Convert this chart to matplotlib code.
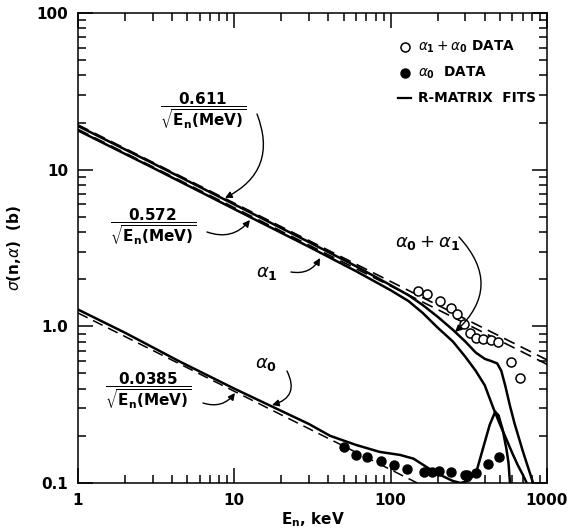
import matplotlib
matplotlib.use("Agg")
import matplotlib.pyplot as plt
from matplotlib.ticker import FixedLocator, NullFormatter, FixedFormatter

# ---------------- data ----------------
# 1/v reference lines (dashed): endpoints
ref_E = [1, 1000]
ref_611 = [19.32, 0.611]
ref_572 = [18.09, 0.572]
ref_0385_E = [1, 148]
ref_0385 = [1.217, 0.1]

# R-matrix fits (solid)
fit_a01_E = [1, 3, 10, 30, 60, 100, 130, 160, 200, 250, 300, 350, 400, 440, 480, 510, 540, 580, 620, 700, 815]
fit_a01_s = [19.0, 11.0, 6.0, 3.45, 2.42, 1.83, 1.58, 1.37, 1.15, 0.95, 0.80, 0.68, 0.62, 0.60, 0.58, 0.52, 0.42, 0.31, 0.24, 0.16, 0.10]

fit_a1_E = [1, 3, 10, 30, 60, 100, 130, 160, 200, 250, 300, 350, 400, 454, 500, 550, 600, 650, 700, 742]
fit_a1_s = [17.8, 10.3, 5.6, 3.22, 2.25, 1.70, 1.45, 1.22, 0.98, 0.80, 0.64, 0.52, 0.42, 0.30, 0.237, 0.19, 0.155, 0.13, 0.113, 0.10]

fit_a0_E = [1, 2, 4.5, 10, 18, 30, 41, 60, 85, 115, 140, 175, 210, 250, 280, 320, 356, 392, 430, 466, 490, 520, 550, 567, 580]
fit_a0_s = [1.28, 0.91, 0.594, 0.40, 0.303, 0.238, 0.20, 0.175, 0.158, 0.151, 0.143, 0.124, 0.112, 0.103, 0.100, 0.104, 0.121, 0.17, 0.235, 0.285, 0.27, 0.22, 0.165, 0.135, 0.10]

# data points
open_E = [149, 170, 207, 242, 267, 295, 322, 352, 388, 439, 484, 587, 676]
open_s = [1.69, 1.61, 1.46, 1.30, 1.20, 1.03, 0.91, 0.84, 0.83, 0.82, 0.79, 0.59, 0.47]

filled_E = [50, 60, 71, 87, 105, 127, 164, 184, 205, 242, 298, 310, 352, 418, 490]
filled_s = [0.170, 0.152, 0.147, 0.138, 0.130, 0.122, 0.118, 0.118, 0.120, 0.118, 0.113, 0.113, 0.115, 0.132, 0.146]

x_ticks = [1, 10, 100, 1000]
x_ticklabels = ["1", "10", "100", "1000"]
y_ticks = [0.1, 1.0, 10, 100]
y_ticklabels = ["0.1", "1.0", "10", "100"]

# ---------------- figure ----------------
W, H = 571, 531
fig = plt.figure(figsize=(W / 100, H / 100), dpi=100)
L, R, T, B = 78, 547, 13, 483
ax = fig.add_axes([L / W, 1 - B / H, (R - L) / W, (B - T) / H])
ax.set_xscale("log")
ax.set_yscale("log")
ax.set_xlim(1, 1000)
ax.set_ylim(0.1, 100)

dash = (0, (7, 4))
lw_s = 1.8
ax.plot(ref_E, ref_611, color="k", lw=1.2, ls=dash)
ax.plot(ref_E, ref_572, color="k", lw=1.2, ls=dash)
ax.plot(ref_0385_E, ref_0385, color="k", lw=1.1, ls=dash)

ax.plot(fit_a01_E, fit_a01_s, color="k", lw=lw_s, solid_joinstyle="round")
ax.plot(fit_a1_E, fit_a1_s, color="k", lw=lw_s, solid_joinstyle="round")
ax.plot(fit_a0_E, fit_a0_s, color="k", lw=lw_s, solid_joinstyle="round")

ax.plot(open_E, open_s, ls="none", marker="o", ms=6.5, mfc="white", mec="k", mew=1.1)
ax.plot(filled_E, filled_s, ls="none", marker="o", ms=6.5, mfc="k", mec="k")

# ticks
ax.xaxis.set_major_locator(FixedLocator(x_ticks))
ax.xaxis.set_major_formatter(FixedFormatter(x_ticklabels))
ax.yaxis.set_major_locator(FixedLocator(y_ticks))
ax.yaxis.set_major_formatter(FixedFormatter(y_ticklabels))
ax.xaxis.set_minor_formatter(NullFormatter())
ax.yaxis.set_minor_formatter(NullFormatter())
ax.tick_params(which="both", direction="in", top=True, right=True, width=1.1)
ax.tick_params(which="major", length=11, pad=7, labelsize=11)
ax.tick_params(which="minor", length=6)
for lab in ax.get_xticklabels() + ax.get_yticklabels():
    lab.set_fontweight("bold")
for s in ax.spines.values():
    s.set_linewidth(1.1)

ax.set_xlabel(r"E$_{\mathbf{n}}$, keV", fontsize=11, fontweight="bold", labelpad=2)
ax.set_ylabel(r"$\sigma$(n,$\alpha$)  (b)", fontsize=11, fontweight="bold", labelpad=10)


def fp(x, y):
    return (x / W, 1 - y / H)


# legend (manual)
def axp(x, y):
    return ((x - L) / (R - L), (B - y) / (B - T))


ax.plot(*axp(405, 47), marker="o", ms=6.5, mfc="white", mec="k", mew=1.1, transform=ax.transAxes, clip_on=False)
ax.plot(*axp(405, 73), marker="o", ms=6.5, mfc="k", mec="k", transform=ax.transAxes, clip_on=False)
x0, y0 = axp(398, 98)
x1, _ = axp(411, 98)
ax.plot([x0, x1], [y0, y0], color="k", lw=1.6, transform=ax.transAxes)
leg_kw = dict(fontsize=9.8, fontweight="bold", va="center")
fig.text(*fp(418, 47), r"$\alpha_{\mathbf{1}}+\alpha_{\mathbf{0}}$ DATA", **leg_kw)
fig.text(*fp(418, 73), r"$\alpha_{\mathbf{0}}$  DATA", **leg_kw)
fig.text(*fp(418, 98), "R-MATRIX  FITS", **leg_kw)

# fraction labels
frac_kw = dict(fontsize=11, ha="center", va="center")
fig.text(*fp(203, 111), r"$\dfrac{\mathbf{0.611}}{\sqrt{\mathbf{E_n(MeV)}}}$", **frac_kw)
fig.text(*fp(153, 227), r"$\dfrac{\mathbf{0.572}}{\sqrt{\mathbf{E_n(MeV)}}}$", **frac_kw)
fig.text(*fp(148, 391), r"$\dfrac{\mathbf{0.0385}}{\sqrt{\mathbf{E_n(MeV)}}}$", **frac_kw)

fig.text(*fp(267, 273), r"$\alpha_{\mathbf{1}}$", fontsize=13, ha="center", va="center")
fig.text(*fp(266, 364), r"$\alpha_{\mathbf{0}}$", fontsize=13, ha="center", va="center")
fig.text(*fp(427, 243), r"$\alpha_{\mathbf{0}}+\alpha_{\mathbf{1}}$", fontsize=13, ha="center", va="center")

# curved arrows
def arrow(start, end, rad):
    ax.annotate("", xy=(end[0], H - end[1]), xycoords="figure pixels",
                xytext=(start[0], H - start[1]), textcoords="figure pixels",
                arrowprops=dict(arrowstyle="-|>", lw=1.0, color="k", mutation_scale=10,
                                shrinkA=0, shrinkB=0, connectionstyle=f"arc3,rad={rad}"))


arrow((257, 114), (225, 198), -0.45)
arrow((207, 232), (250, 220), 0.35)
arrow((291, 272), (320, 258), 0.35)
arrow((459, 237), (455, 332), -0.5)
arrow((287, 371), (272, 405), -0.6)
arrow((203, 403), (235, 393), 0.35)

fig.savefig("out.png", dpi=100)
